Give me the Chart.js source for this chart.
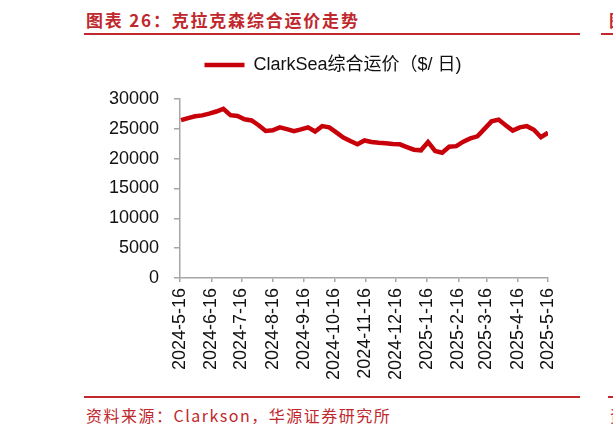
<!DOCTYPE html>
<html>
<head>
<meta charset="utf-8">
<script src="https://cdn.jsdelivr.net/npm/chart.js@4.4.1/dist/chart.umd.min.js"></script>
<style>
  html, body { margin:0; padding:0; background:#fff; }
  body { width:613px; height:435px; position:relative; overflow:hidden; }
  #wrap { position:absolute; left:0; top:0; width:613px; height:390px; }
  .txt { position:absolute; white-space:nowrap; color:#c0282d; font-family:"Noto Sans CJK SC", sans-serif; }
  .rule { position:absolute; background:#c0282d; height:2px; }
</style>
</head>
<body>
<div class="txt" id="title" style="left:86px; top:11px; font-size:17px; line-height:17px; font-weight:bold; letter-spacing:1.8px;">图表 26：克拉克森综合运价走势</div>
<div class="rule" style="left:84px; top:33px; width:496px;"></div>
<div class="rule" style="left:601px; top:33px; width:12px;"></div>
<div class="txt" style="left:609px; top:11px; font-size:17px; line-height:17px; font-weight:bold;">图</div>
<div id="wrap"><canvas id="c"></canvas></div>
<div class="rule" style="left:84px; top:396px; width:496px;"></div>
<div class="rule" style="left:608px; top:396px; width:5px;"></div>
<div class="txt" id="source" style="left:86px; top:407px; font-size:16px; line-height:16px; letter-spacing:1.5px;">资料来源：Clarkson，华源证券研究所</div>
<div class="txt" style="left:610px; top:407px; font-size:16px; line-height:16px;">资</div>
<script>
const seriesName = 'ClarkSea综合运价（$/ 日)';
const dates = [
  '2024-05-17','2024-05-24','2024-05-31','2024-06-07','2024-06-14','2024-06-21','2024-06-28',
  '2024-07-05','2024-07-12','2024-07-19','2024-07-26','2024-08-02','2024-08-09','2024-08-16',
  '2024-08-23','2024-08-30','2024-09-06','2024-09-13','2024-09-20','2024-09-27','2024-10-04',
  '2024-10-11','2024-10-18','2024-10-25','2024-11-01','2024-11-08','2024-11-15','2024-11-22',
  '2024-11-29','2024-12-06','2024-12-13','2024-12-20','2024-12-27','2025-01-03','2025-01-10',
  '2025-01-17','2025-01-24','2025-01-31','2025-02-07','2025-02-14','2025-02-21','2025-02-28',
  '2025-03-07','2025-03-14','2025-03-21','2025-03-28','2025-04-04','2025-04-11','2025-04-18',
  '2025-04-25','2025-05-02','2025-05-09','2025-05-16'
];
const values = [
  26450, 26800, 27100, 27250, 27550, 27900, 28350,
  27300, 27150, 26600, 26400, 25600, 24650, 24750,
  25250, 24950, 24600, 24900, 25250, 24550, 25450,
  25250, 24400, 23550, 22950, 22400, 23050, 22800,
  22650, 22600, 22450, 22400, 21950, 21500, 21400,
  22800, 21300, 21000, 22000, 22100, 22850, 23400,
  23750, 25000, 26250, 26550, 25600, 24700, 25250,
  25450, 24850, 23600, 24350
];
const tickLabels = [
  '2024-5-16','2024-6-16','2024-7-16','2024-8-16','2024-9-16','2024-10-16',
  '2024-11-16','2024-12-16','2025-1-16','2025-2-16','2025-3-16','2025-4-16','2025-5-16'
];
const yMin = 0, yMax = 30000, yStep = 5000;

function dayOf(s) {
  const p = s.split('-').map(Number);
  return Math.round(Date.UTC(p[0], p[1] - 1, p[2]) / 86400000);
}
const tickDays = tickLabels.map(dayOf);
const points = dates.map((d, i) => ({ x: dayOf(d), y: values[i] }));

const axisColor = '#a6a6a6';
const tickFont = { family: '"Liberation Sans", Arial, sans-serif', size: 18 };

const legendSpacer = {
  id: 'legendSpacer',
  beforeLayout(chart) {
    const lg = chart.legend;
    if (lg && !lg._spaced) {
      const f = lg.fit.bind(lg);
      lg.fit = function () { f(); this.height += 15; };
      lg._spaced = true;
    }
  }
};

new Chart(document.getElementById('c'), {
  type: 'line',
  data: {
    datasets: [{
      label: seriesName,
      data: points,
      borderColor: '#c8000a',
      backgroundColor: '#c8000a',
      borderWidth: 4.5,
      pointRadius: 0,
      pointHoverRadius: 0,
      pointStyle: 'line',
      tension: 0,
      fill: false
    }]
  },
  options: {
    responsive: true,
    maintainAspectRatio: false,
    animation: false,
    devicePixelRatio: 1,
    layout: { padding: { left: 118, right: 65, top: 46, bottom: 0 } },
    plugins: {
      legend: {
        display: true,
        position: 'top',
        labels: {
          usePointStyle: true,
          pointStyleWidth: 40,
          padding: 10,
          color: '#111',
          font: { family: '"Liberation Sans", Arial, "Noto Sans CJK SC", sans-serif', size: 18 }
        }
      },
      tooltip: { enabled: false }
    },
    scales: {
      x: {
        type: 'linear',
        min: tickDays[0],
        max: tickDays[tickDays.length - 1],
        afterBuildTicks(scale) { scale.ticks = tickDays.map(v => ({ value: v })); },
        afterFit(scale) { scale.height = 112; },
        border: { display: true, color: axisColor, width: 1.5 },
        grid: { drawOnChartArea: false, drawTicks: true, tickLength: 4, color: axisColor, lineWidth: 1.5 },
        ticks: {
          autoSkip: false,
          minRotation: 90,
          maxRotation: 90,
          padding: 6,
          color: '#111',
          font: tickFont,
          callback(v) { const i = tickDays.indexOf(v); return i >= 0 ? tickLabels[i] : ''; }
        }
      },
      y: {
        min: yMin,
        max: yMax,
        afterFit(scale) {
          scale.width = 62;
          scale._computeLabelArea = function () { return undefined; };
        },
        border: { display: true, color: axisColor, width: 1.5 },
        grid: { drawOnChartArea: false, drawTicks: true, tickLength: 6, color: axisColor, lineWidth: 1.5 },
        ticks: {
          stepSize: yStep,
          padding: 15,
          color: '#111',
          font: tickFont,
          callback(v) { return String(v); }
        }
      }
    }
  },
  plugins: [legendSpacer]
});
</script>
</body>
</html>
